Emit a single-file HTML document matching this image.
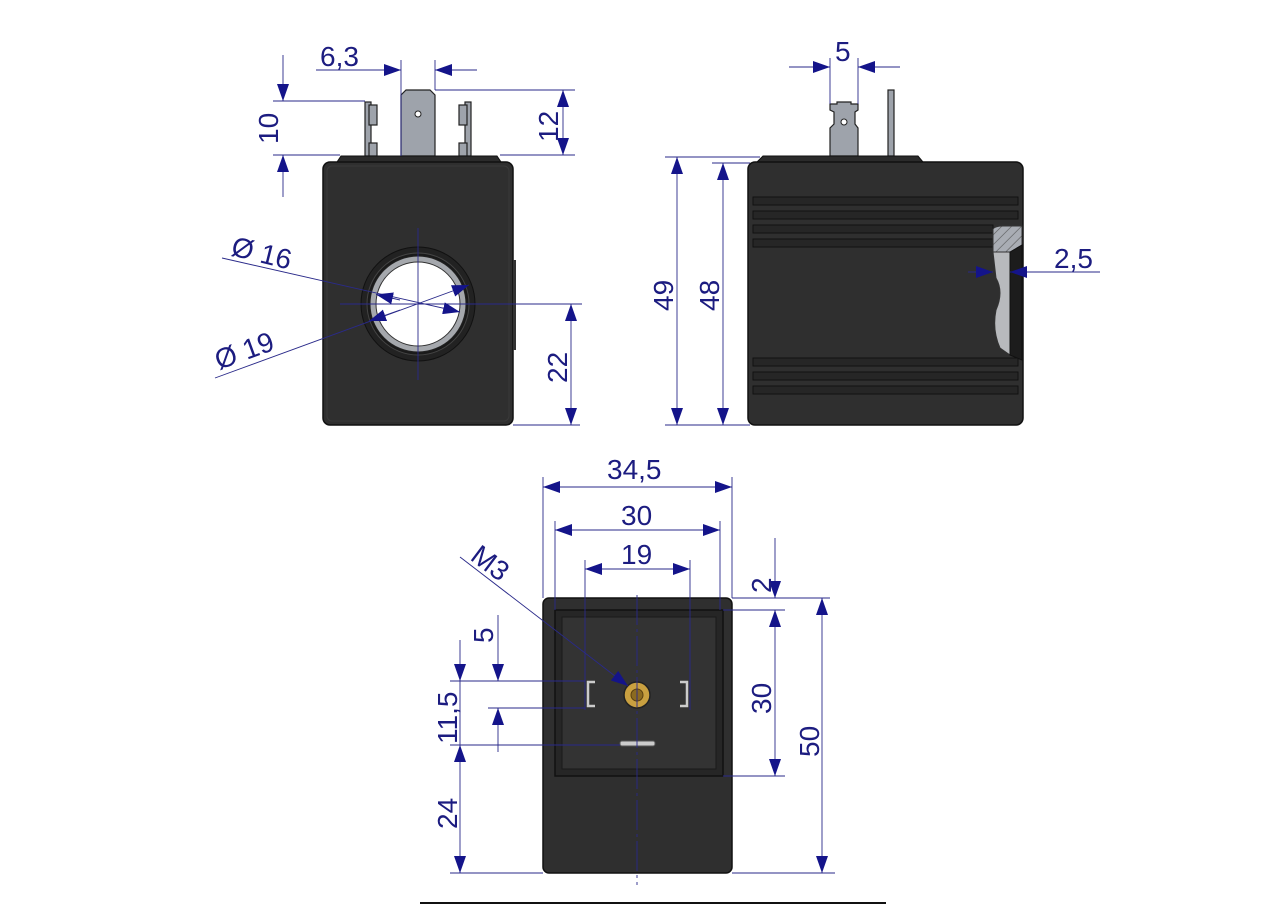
<!DOCTYPE html>
<html><head><meta charset="utf-8"><style>
html,body{margin:0;padding:0;background:#fff}
svg{display:block}
text{font-family:"Liberation Sans",sans-serif;font-size:28px;fill:#1c1c80}
</style></head><body>
<svg width="1282" height="906" viewBox="0 0 1282 906" xmlns="http://www.w3.org/2000/svg">
<defs>
<marker id="a" markerUnits="userSpaceOnUse" markerWidth="18" markerHeight="12" refX="17" refY="6" orient="auto-start-reverse">
<path d="M0,0 L17,6 L0,12 z" fill="#14148a"/></marker>
<pattern id="h" width="7" height="7" patternUnits="userSpaceOnUse" patternTransform="rotate(45)">
<rect width="7" height="7" fill="#a9adb4"/><line x1="0" y1="0" x2="0" y2="7" stroke="#555" stroke-width="1.2"/></pattern>
</defs>

<!-- ===== VIEW 1 ===== -->
<g stroke="#222" stroke-width="1.2">
<rect x="365" y="102" width="6" height="54" fill="#9ea3ab"/>
<rect x="369" y="105" width="8" height="20" fill="#9ea3ab"/>
<rect x="369" y="143" width="8" height="13" fill="#9ea3ab"/>
<rect x="465" y="102" width="6" height="54" fill="#9ea3ab"/>
<rect x="459" y="105" width="8" height="20" fill="#9ea3ab"/>
<rect x="459" y="143" width="8" height="13" fill="#9ea3ab"/>
<path d="M401,156 V95 L406,90 H430 L435,95 V156 z" fill="#9ea3ab"/>
</g>
<circle cx="418" cy="114" r="3" fill="#fff" stroke="#222"/>
<path d="M337,162 L341,156 H497 L501,162 z" fill="#2b2b2b" stroke="#111"/>
<rect x="323" y="162" width="190" height="263" rx="7" fill="#2f2f2f" stroke="#111" stroke-width="1.5"/>
<rect x="327" y="166" width="182" height="255" rx="5" fill="none" stroke="#3a3a3a"/>
<rect x="513" y="260" width="3" height="90" fill="#333"/>
<circle cx="418" cy="304" r="57" fill="#222" stroke="#111"/>
<circle cx="418" cy="304" r="51" fill="#1a1a1a" stroke="#444"/>
<circle cx="418" cy="304" r="48" fill="#a5a8ad" stroke="#222"/>
<circle cx="418" cy="304" r="42" fill="#fff" stroke="#333"/>
<g stroke="#2a2a8a" stroke-width="0.9" fill="none">
<line x1="418" y1="228" x2="418" y2="380"/>
<line x1="340" y1="304" x2="582" y2="304"/>
<line x1="401" y1="60" x2="401" y2="156"/>
<line x1="435" y1="60" x2="435" y2="90"/>
<line x1="316" y1="70" x2="401" y2="70" marker-end="url(#a)"/>
<line x1="477" y1="70" x2="435" y2="70" marker-end="url(#a)"/>
<line x1="273" y1="101" x2="365" y2="101"/>
<line x1="273" y1="155" x2="340" y2="155"/>
<line x1="283" y1="55" x2="283" y2="101" marker-end="url(#a)"/>
<line x1="283" y1="197" x2="283" y2="155" marker-end="url(#a)"/>
<line x1="435" y1="90" x2="575" y2="90"/>
<line x1="500" y1="155" x2="575" y2="155"/>
<line x1="563" y1="90" x2="563" y2="155" marker-start="url(#a)" marker-end="url(#a)"/>
<line x1="513" y1="425" x2="580" y2="425"/>
<line x1="571" y1="304" x2="571" y2="425" marker-start="url(#a)" marker-end="url(#a)"/>
<line x1="222" y1="258" x2="460" y2="312" marker-end="url(#a)"/>
<line x1="400" y1="300" x2="376" y2="294.5" marker-end="url(#a)"/>
<line x1="215" y1="378" x2="469" y2="285" marker-end="url(#a)"/>
<line x1="400" y1="310" x2="369" y2="321" marker-end="url(#a)"/>
</g>
<text x="320" y="66">6,3</text>
<text transform="translate(278,144) rotate(-90)">10</text>
<text transform="translate(558,142) rotate(-90)">12</text>
<text transform="translate(567,383) rotate(-90)">22</text>
<text transform="translate(230,255) rotate(14)">Ø 16</text>
<text transform="translate(219,370) rotate(-20)">Ø 19</text>

<!-- ===== VIEW 2 ===== -->
<g stroke="#222" stroke-width="1.2">
<path d="M830,156 V128 L834,124 V112 L830,110 V104 H837 V102 H851 V104 H858 V110 L855,112 V124 L858,128 V156 z" fill="#9ea3ab"/>
<rect x="888" y="90" width="6" height="66" fill="#9ea3ab"/>
</g>
<circle cx="844" cy="122" r="3" fill="#fff" stroke="#222"/>
<path d="M757,162 L763,156 H918 L923,162 z" fill="#2b2b2b" stroke="#111"/>
<rect x="748" y="162" width="275" height="263" rx="7" fill="#2f2f2f" stroke="#111" stroke-width="1.5"/>
<g fill="#262626" stroke="#111">
<rect x="753" y="197" width="265" height="8"/><rect x="753" y="211" width="265" height="8"/>
<rect x="753" y="225" width="240" height="8"/><rect x="753" y="239" width="240" height="8"/>
<rect x="753" y="358" width="265" height="8"/><rect x="753" y="372" width="265" height="8"/>
<rect x="753" y="386" width="265" height="8"/>
</g>
<path d="M993,229 Q995,226 1003,226 H1022 V247 L1012,252 H993 z" fill="url(#h)" stroke="#333"/>
<path d="M993,252 H1010 V355 L1000,348 Q992,330 996,310 Q1004,292 996,278 z" fill="#b8babd" stroke="#333"/>
<path d="M1010,252 L1022,245 V360 L1010,355 z" fill="#1c1c1c" stroke="#111"/>
<g stroke="#2a2a8a" stroke-width="0.9" fill="none">
<line x1="830" y1="58" x2="830" y2="104"/>
<line x1="858" y1="58" x2="858" y2="104"/>
<line x1="789" y1="67" x2="830" y2="67" marker-end="url(#a)"/>
<line x1="900" y1="67" x2="858" y2="67" marker-end="url(#a)"/>
<line x1="665" y1="157" x2="760" y2="157"/>
<line x1="712" y1="163" x2="750" y2="163"/>
<line x1="665" y1="425" x2="750" y2="425"/>
<line x1="677" y1="157" x2="677" y2="425" marker-start="url(#a)" marker-end="url(#a)"/>
<line x1="723" y1="163" x2="723" y2="425" marker-start="url(#a)" marker-end="url(#a)"/>
<line x1="968" y1="272" x2="993" y2="272" marker-end="url(#a)"/>
<line x1="1100" y1="272" x2="1010" y2="272" marker-end="url(#a)"/>
</g>
<text x="835" y="61">5</text>
<text transform="translate(673,311) rotate(-90)">49</text>
<text transform="translate(719,311) rotate(-90)">48</text>
<text x="1054" y="268">2,5</text>

<!-- ===== VIEW 3 ===== -->
<rect x="543" y="598" width="189" height="275" rx="6" fill="#2f2f2f" stroke="#111" stroke-width="1.5"/>
<rect x="555" y="610" width="168" height="166" fill="#262626" stroke="#111" stroke-width="1.5"/>
<rect x="562" y="617" width="154" height="152" fill="#333" stroke="#1a1a1a"/>
<g fill="none" stroke="#ccc" stroke-width="2.5">
<path d="M595,682 H588 V706 H595"/>
<path d="M680,682 H687 V706 H680"/>
</g>
<rect x="620" y="741" width="35" height="5" rx="2" fill="#ccc" stroke="#555"/>
<circle cx="637" cy="695" r="13" fill="#c9a040" stroke="#222" stroke-width="1.5"/>
<circle cx="637" cy="695" r="6" fill="#8b6a20" stroke="#5a4010"/>
<g stroke="#2a2a8a" stroke-width="0.9" fill="none">
<line x1="637" y1="595" x2="637" y2="885" stroke-dasharray="30,4,3,4"/>
<line x1="543" y1="477" x2="543" y2="598"/>
<line x1="732" y1="477" x2="732" y2="598"/>
<line x1="543" y1="487" x2="732" y2="487" marker-start="url(#a)" marker-end="url(#a)"/>
<line x1="555" y1="521" x2="555" y2="610"/>
<line x1="720" y1="521" x2="720" y2="610"/>
<line x1="555" y1="530" x2="720" y2="530" marker-start="url(#a)" marker-end="url(#a)"/>
<line x1="585" y1="560" x2="585" y2="710"/>
<line x1="690" y1="560" x2="690" y2="710"/>
<line x1="585" y1="569" x2="690" y2="569" marker-start="url(#a)" marker-end="url(#a)"/>
<line x1="460" y1="557" x2="628" y2="686" marker-end="url(#a)"/>
<line x1="732" y1="598" x2="830" y2="598"/>
<line x1="723" y1="610" x2="785" y2="610"/>
<line x1="723" y1="776" x2="785" y2="776"/>
<line x1="732" y1="873" x2="835" y2="873"/>
<line x1="775" y1="538" x2="775" y2="598" marker-end="url(#a)"/>
<line x1="775" y1="610" x2="775" y2="776" marker-start="url(#a)" marker-end="url(#a)"/>
<line x1="822" y1="598" x2="822" y2="873" marker-start="url(#a)" marker-end="url(#a)"/>
<line x1="450" y1="681" x2="585" y2="681"/>
<line x1="488" y1="708" x2="585" y2="708"/>
<line x1="450" y1="745" x2="620" y2="745"/>
<line x1="450" y1="873" x2="543" y2="873"/>
<line x1="498" y1="615" x2="498" y2="681" marker-end="url(#a)"/>
<line x1="498" y1="752" x2="498" y2="708" marker-end="url(#a)"/>
<line x1="460" y1="640" x2="460" y2="681" marker-end="url(#a)"/>
<line x1="460" y1="681" x2="460" y2="745" />
<line x1="460" y1="745" x2="460" y2="873" marker-start="url(#a)" marker-end="url(#a)"/>
</g>
<text x="607" y="479">34,5</text>
<text x="621" y="525">30</text>
<text x="621" y="564">19</text>
<text transform="translate(469,559) rotate(37)">M3</text>
<text transform="translate(771,593) rotate(-90)">2</text>
<text transform="translate(771,714) rotate(-90)">30</text>
<text transform="translate(819,757) rotate(-90)">50</text>
<text transform="translate(493,643) rotate(-90)">5</text>
<text transform="translate(457,744) rotate(-90)">11,5</text>
<text transform="translate(457,829) rotate(-90)">24</text>

<line x1="420" y1="903" x2="886" y2="903" stroke="#111" stroke-width="2"/>
</svg>
</body></html>
